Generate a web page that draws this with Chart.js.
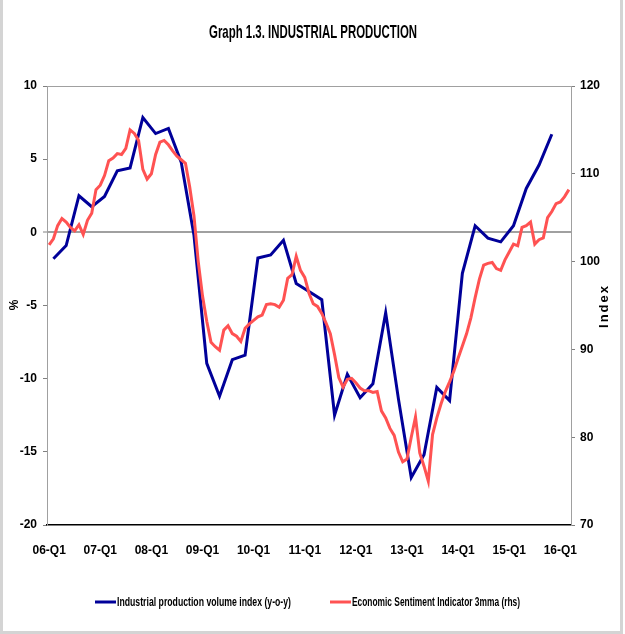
<!DOCTYPE html>
<html><head><meta charset="utf-8">
<script src="https://cdn.jsdelivr.net/npm/chart.js@4.4.1/dist/chart.umd.min.js"></script>
<style>html,body{margin:0;padding:0;background:#fff}#wrap{width:625px;height:634px;position:relative}</style>
</head><body><div id="wrap"><canvas id="c" width="625" height="634"></canvas></div>
<script>
const FONT = "'Liberation Sans',Arial,sans-serif";
const chartTitle = 'Graph 1.3. INDUSTRIAL PRODUCTION';
const leftAxisTitle = '%';
const rightAxisTitle = 'Index';
const yearLabels = ['06-Q1','07-Q1','08-Q1','09-Q1','10-Q1','11-Q1','12-Q1','13-Q1','14-Q1','15-Q1','16-Q1'];
const seriesNames = ['Industrial production volume index (y-o-y)', 'Economic Sentiment Indicator 3mma (rhs)'];
// Quarterly, 2006-Q1 .. 2015-Q4 (y-o-y, %)
const industrialProduction = [
  -1.8, -0.9, 2.5, 1.75,
  2.45, 4.2, 4.4, 7.85,
  6.75, 7.1, 4.8, -0.2,
  -8.95, -11.2, -8.7, -8.4,
  -1.75, -1.55, -0.55, -3.5,
  -4.05, -4.6, -12.5, -9.7,
  -11.3, -10.35, -5.5, -11.4,
  -16.75, -15.2, -10.6, -11.5,
  -2.8, 0.45, -0.4, -0.65,
  0.45, 3.0, 4.6, 6.7
];
// Monthly, Jan 2006 .. Mar 2016 (index, rhs)
const sentimentIndicator = [
  101.9, 102.6, 104.1, 104.9, 104.5, 103.9, 103.5, 104.2, 103.1, 104.7, 105.5, 108.2,
  108.7, 109.8, 111.5, 111.8, 112.3, 112.2, 112.9, 115.0, 114.6, 113.8, 110.5, 109.4,
  110.0, 112.2, 113.6, 113.8, 113.3, 112.6, 112.0, 111.6, 111.2, 108.5, 105.2, 100.0,
  96.1, 93.2, 90.8, 90.3, 89.9, 92.2, 92.7, 91.8, 91.5, 90.9, 92.4, 92.9,
  93.3, 93.7, 93.9, 95.1, 95.2, 95.1, 94.8, 95.6, 98.1, 98.5, 100.6, 99.0,
  98.2, 96.4, 95.2, 94.9, 94.1, 93.0, 91.8, 89.4, 86.8, 85.7, 86.6, 86.7,
  86.2, 85.6, 85.3, 85.3, 85.1, 85.2, 83.0, 82.2, 81.0, 80.2, 78.3, 77.2,
  77.5, 80.0, 82.3, 78.2, 76.7, 75.0, 80.3, 82.2, 83.8, 85.2, 86.3, 87.5,
  89.0, 90.4, 91.8, 93.6, 95.9, 98.0, 99.6, 99.8, 99.9, 99.2, 99.0, 100.2,
  101.1, 102.0, 101.8, 103.9, 104.1, 104.5, 102.0, 102.5, 102.7, 105.0, 105.7, 106.6,
  106.8, 107.4, 108.2
];
const colors = ['#000099', '#ff5252'];

function fitText(ctx, text, x, y, width) {
  const w = ctx.measureText(text).width;
  ctx.save();
  ctx.translate(x, y);
  ctx.scale(width / w, 1);
  ctx.fillText(text, 0, 0);
  ctx.restore();
}

const pageDecor = {
  id: 'pageDecor',
  beforeDraw(chart) {
    const ctx = chart.ctx;
    ctx.save();
    ctx.fillStyle = '#fff';
    ctx.fillRect(0, 0, chart.width, chart.height);
    ctx.strokeStyle = '#d4d4d4';
    ctx.lineWidth = 3;
    ctx.beginPath();
    ctx.moveTo(1.5, 0); ctx.lineTo(1.5, 632.5); ctx.lineTo(621.5, 632.5); ctx.lineTo(621.5, 0);
    ctx.stroke();
    ctx.restore();
  },
  beforeDatasetsDraw(chart) {
    const {ctx, chartArea: a} = chart;
    ctx.save();
    ctx.strokeStyle = '#a0a0a0';
    ctx.lineWidth = 1;
    ctx.beginPath();
    ctx.moveTo(a.left, a.top + 0.5); ctx.lineTo(a.right, a.top + 0.5);
    ctx.stroke();
    ctx.restore();
  },
  afterDraw(chart) {
    const ctx = chart.ctx;
    ctx.save();
    ctx.fillStyle = '#000';
    ctx.textAlign = 'left';
    ctx.textBaseline = 'middle';
    ctx.font = 'bold 19px ' + FONT;
    fitText(ctx, chartTitle, 209, 33, 208);
    ctx.textAlign = 'center';
    ctx.font = 'bold 12px ' + FONT;
    ctx.save(); ctx.translate(15, 305); ctx.rotate(-Math.PI / 2); ctx.fillText(leftAxisTitle, 0, 0); ctx.restore();
    ctx.font = 'bold 13px ' + FONT;
    ctx.save(); ctx.translate(604, 306); ctx.rotate(-Math.PI / 2); ctx.letterSpacing = '2px'; ctx.fillText(rightAxisTitle, 0, 0); ctx.restore();
    // legend
    const items = [{x: 95, w: 174}, {x: 330, w: 168}];
    ctx.font = 'bold 13px ' + FONT;
    ctx.textAlign = 'left';
    chart.data.datasets.forEach((ds, i) => {
      const x0 = items[i].x, y0 = 602;
      ctx.strokeStyle = ds.borderColor;
      ctx.lineWidth = 3;
      ctx.beginPath(); ctx.moveTo(x0, y0); ctx.lineTo(x0 + 21, y0); ctx.stroke();
      ctx.fillStyle = '#000';
      fitText(ctx, ds.label, x0 + 22, y0, items[i].w);
    });
    ctx.restore();
  }
};

const tickFont = {family: FONT, size: 12, weight: 'bold'};

new Chart(document.getElementById('c'), {
  type: 'line',
  data: {
    datasets: [
      {
        label: seriesNames[0],
        data: industrialProduction.map((v, i) => ({x: 3 * i + 1, y: v})),
        borderColor: colors[0], backgroundColor: colors[0],
        borderWidth: 3, pointRadius: 0, tension: 0, yAxisID: 'y', order: 1
      },
      {
        label: seriesNames[1],
        data: sentimentIndicator.map((v, i) => ({x: i, y: v})),
        borderColor: colors[1], backgroundColor: colors[1],
        borderWidth: 3, pointRadius: 0, tension: 0, yAxisID: 'y1', order: 0
      }
    ]
  },
  options: {
    responsive: false,
    animation: false,
    devicePixelRatio: 1,
    layout: {padding: {top: 86, bottom: 69, left: 0, right: 0}},
    plugins: {legend: {display: false}, tooltip: {enabled: false}, title: {display: false}},
    scales: {
      x: {
        type: 'linear', min: -0.5, max: 122.5,
        afterBuildTicks: s => { s.ticks = yearLabels.map((_, i) => ({value: i * 12})); },
        afterFit: s => { s.height = 40; },
        ticks: {callback: v => yearLabels[Math.round(v / 12)], autoSkip: false, maxRotation: 0, padding: 18, font: tickFont, color: '#000'},
        grid: {display: false, drawTicks: false},
        border: {display: true, color: '#000', width: 1.5}
      },
      y: {
        position: 'left', min: -20, max: 10,
        afterFit: s => { s.width = 47; },
        ticks: {stepSize: 5, padding: 6, font: tickFont, color: '#000'},
        grid: {
          drawOnChartArea: true,
          color: c => (c.tick && c.tick.value === 0) ? '#a0a0a0' : 'rgba(0,0,0,0)',
          lineWidth: c => (c.tick && c.tick.value === 0) ? 2 : 1,
          tickColor: '#808080', tickLength: 4, tickWidth: 1
        },
        border: {display: true, color: '#a0a0a0', width: 1}
      },
      y1: {
        position: 'right', min: 70, max: 120,
        afterFit: s => { s.width = 54; },
        ticks: {stepSize: 10, padding: 5, font: tickFont, color: '#000'},
        grid: {drawOnChartArea: false, color: '#808080', tickLength: 4, tickWidth: 1},
        border: {display: true, color: '#a0a0a0', width: 1}
      }
    }
  },
  plugins: [pageDecor]
});
</script>
</body></html>
